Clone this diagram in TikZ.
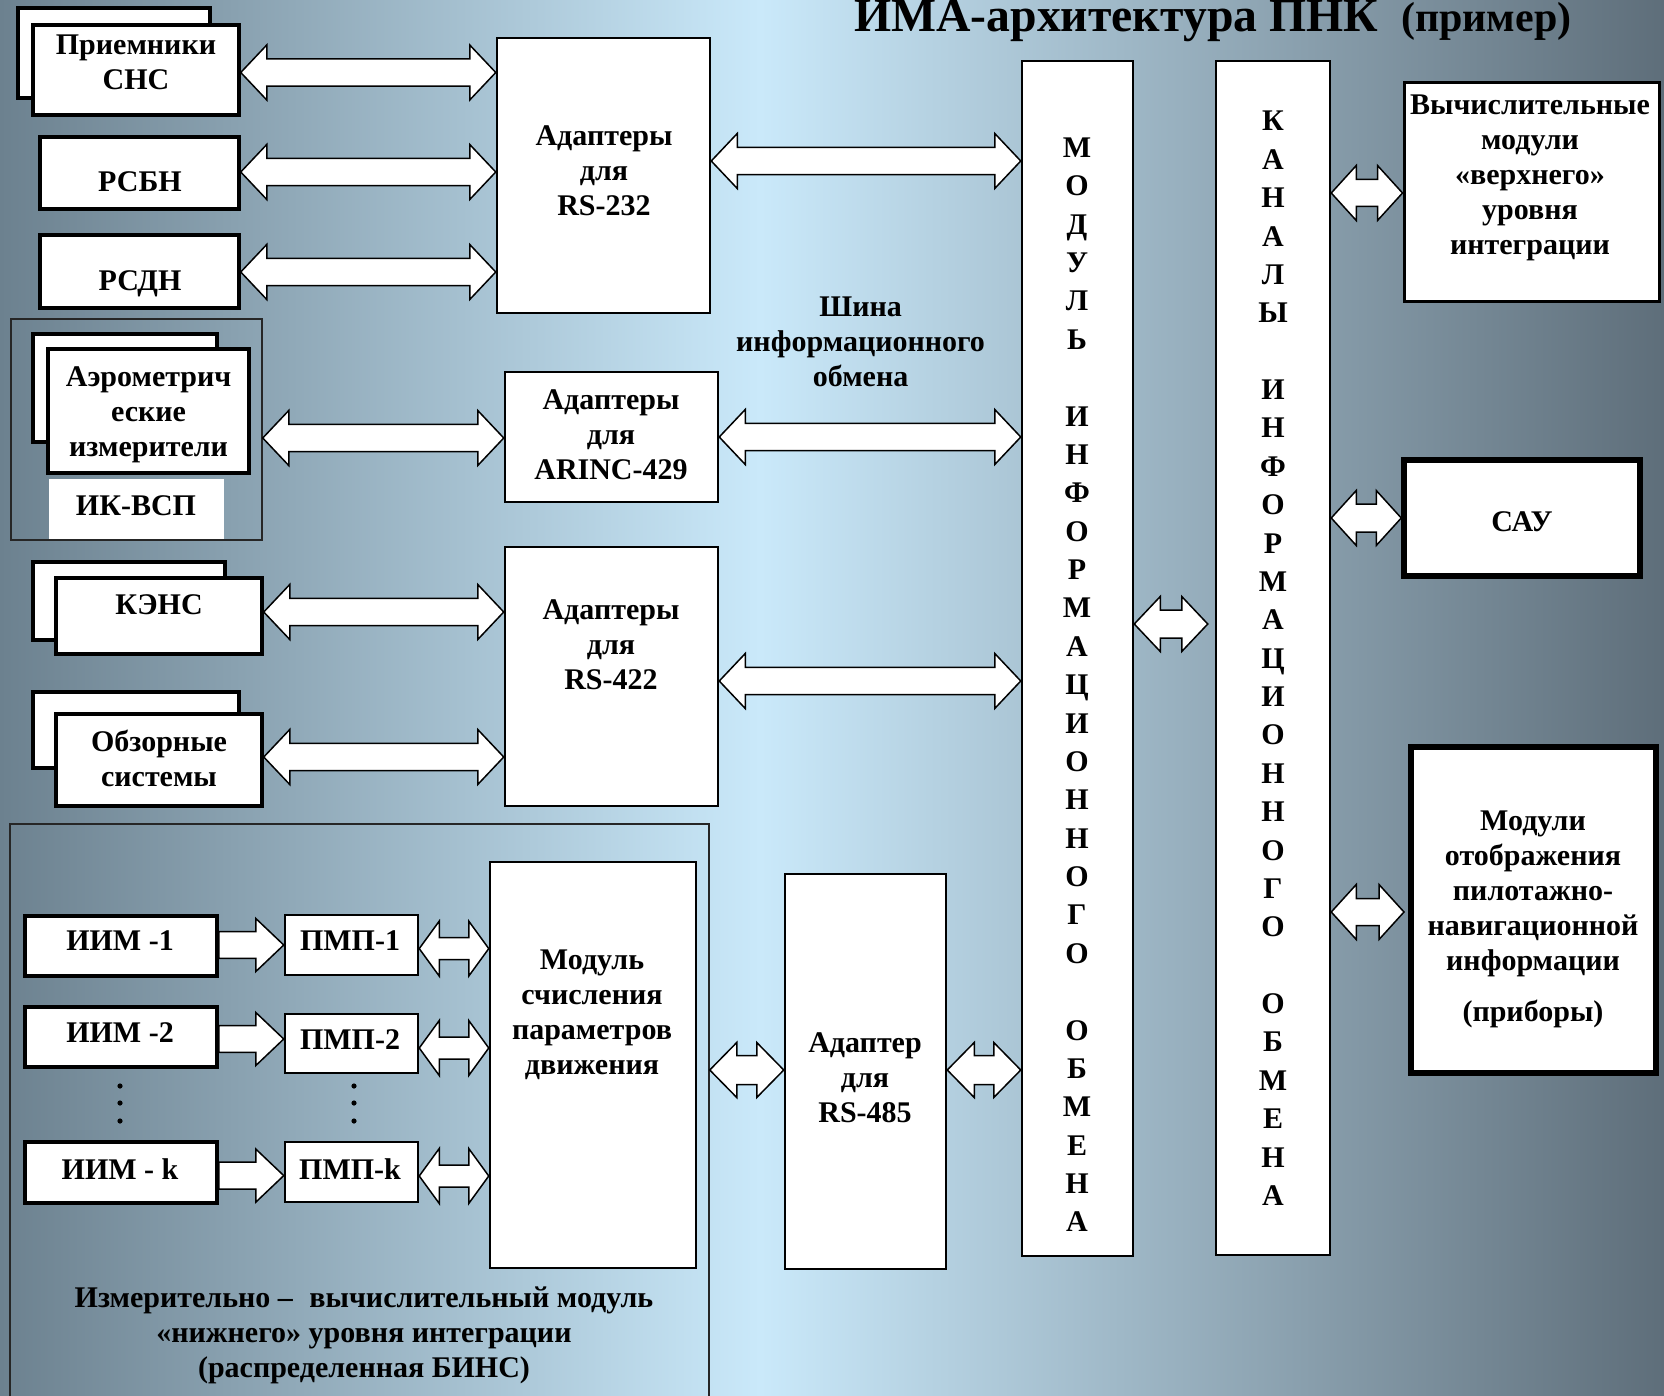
\documentclass[tikz,border=0pt]{standalone}
\usepackage{fontspec}
\setmainfont{Liberation Serif}
\usetikzlibrary{calc,fit}
\definecolor{bgL}{RGB}{108,129,143}
\definecolor{bgM}{RGB}{202,233,250}
\definecolor{bgR}{RGB}{94,110,122}
\tikzset{
  box/.style={draw=black, fill=white, line width=2.5pt, inner sep=0pt},
  srcbox/.style={box, line width=3.5pt},
  heavybox/.style={box, line width=6pt},
  grp/.style={draw=black!85, line width=1.5pt, inner sep=0pt},
  txt/.style={align=center, font=\bfseries\fontsize{30}{35}\selectfont, inner sep=0pt},
  barletter/.style={font=\bfseries\fontsize{30}{36}\selectfont, inner sep=0pt, anchor=base},
  blk/.style={draw=black, fill=white, line width=1.5pt, line join=miter},
}
% double block arrow: #1 left point, #2 right point, #3 y, #4 head length, #5 head half, #6 shaft half
\newcommand\dblarrow[6]{%
  \draw[blk] let \p1=(#1), \p2=(#2), \p3=(0,#3) in
    (\x1,\y3) -- (\x1+#4pt,\y3+#5pt) -- (\x1+#4pt,\y3+#6pt) -- (\x2-#4pt,\y3+#6pt)
    -- (\x2-#4pt,\y3+#5pt) -- (\x2,\y3) -- (\x2-#4pt,\y3-#5pt) -- (\x2-#4pt,\y3-#6pt)
    -- (\x1+#4pt,\y3-#6pt) -- (\x1+#4pt,\y3-#5pt) -- cycle;}
% single block arrow
\newcommand\sglarrow[6]{%
  \draw[blk] let \p1=(#1), \p2=(#2), \p3=(0,#3) in
    (\x1,\y3+#6pt) -- (\x2-#4pt,\y3+#6pt) -- (\x2-#4pt,\y3+#5pt) -- (\x2,\y3)
    -- (\x2-#4pt,\y3-#5pt) -- (\x2-#4pt,\y3-#6pt) -- (\x1,\y3-#6pt) -- cycle;}
\begin{document}
\begin{tikzpicture}[x=1pt,y=-1pt]
\useasboundingbox (0,0) rectangle (1664,1396);
\shade[left color=bgL, right color=bgM] (0,0) rectangle (760,1396);
\shade[left color=bgM, right color=bgR] (760,0) rectangle (1664,1396);

% title
\node[anchor=base west, inner sep=0pt, font=\bfseries\fontsize{47.7}{52}\selectfont] (title) at (854,32) {ИМА-архитектура ПНК};
\node[anchor=base west, inner sep=0pt, font=\bfseries\fontsize{42}{46}\selectfont] (title2) at (1401,32) {(пример)};

% group frames
\node[grp, fit={(11,319) (262,540)}] (grpIK) {};
\node[grp, fit={(10,824) (709,1402)}] (grpB) {};

% left sources
\node[srcbox, fit={(18,8) (210,98)}] (snsb) {};
\node[srcbox, fit={(33,25) (239,115)}] (sns) {};
\node[srcbox, fit={(40,137) (239,209)}] (rsbn) {};
\node[srcbox, fit={(40,235) (239,308)}] (rsdn) {};
\node[srcbox, fit={(33,334) (217,442)}] (aerob) {};
\node[srcbox, fit={(48,349) (249,473)}] (aero) {};
\node[fill=white, inner sep=0pt, fit={(49,479) (224,539)}] (ik) {};
\node[srcbox, fit={(33,562) (225,640)}] (kensb) {};
\node[srcbox, fit={(56,578) (262,654)}] (kens) {};
\node[srcbox, fit={(33,692) (239,768)}] (obzb) {};
\node[srcbox, fit={(56,714) (262,806)}] (obz) {};

% adapters
\node[box, fit={(497,38) (710,313)}] (a232) {};
\node[box, fit={(505,372) (718,502)}] (arinc) {};
\node[box, fit={(505,547) (718,806)}] (a422) {};

% bottom group
\node[srcbox, fit={(25,916) (217,976)}] (iim1) {};
\node[srcbox, fit={(25,1007) (217,1067)}] (iim2) {};
\node[srcbox, fit={(25,1142) (217,1203)}] (iimk) {};
\node[box, fit={(285,915) (418,975)}] (pmp1) {};
\node[box, fit={(285,1014) (418,1073)}] (pmp2) {};
\node[box, fit={(285,1142) (418,1202)}] (pmpk) {};
\node[box, fit={(490,862) (696,1268)}] (msp) {};
\node[box, fit={(785,874) (946,1269)}] (a485) {};

% buses
\node[box, fit={(1022,61) (1133,1256)}] (modul) {};
\node[box, fit={(1216,61) (1330,1255)}] (kanal) {};

% right side
\node[box, line width=3pt, fit={(1404,83) (1659,302)}] (vych) {};
\node[box, line width=5.5pt, fit={(1404,460) (1640,576)}] (sau) {};
\node[heavybox, fit={(1411,747) (1656,1073)}] (motb) {};

% texts
\node[txt] (snsT) at (136,62.5) {Приемники\\СНС};
\node[txt] (rsbnT) at (140,182) {РСБН};
\node[txt] (rsdnT) at (140,284) {РСДН};
\node[txt] (a232T) at (604,170.3) {Адаптеры\\для\\RS-232};
\node[txt] (aeroT) at (148.6,414.7) {Аэрометрич\\еские\\измерители};
\node[txt] (ikT) at (136,506) {ИК-ВСП};
\node[txt] (arincT) at (611,434.5) {Адаптеры\\для\\ARINC-429};
\node[txt] (kensT) at (159,605) {КЭНС};
\node[txt] (obzT) at (159,758.3) {Обзорные\\системы};
\node[txt] (a422T) at (611,645) {Адаптеры\\для\\RS-422};
\node[txt] (shinaT) at (860.6,341.7) {Шина\\информационного\\обмена};
\node[txt] (vychT) at (1530,178) {Вычислительные\\модули\\«верхнего»\\уровня\\интеграции};
\node[txt] (sauT) at (1522,522) {САУ};
\node[txt] (motbT) at (1533,919.5) {Модули\\отображения\\пилотажно-\\навигационной\\информации\\[16pt](приборы)};
\node[txt] (iim1T) at (120,941) {ИИМ -1};
\node[txt] (iim2T) at (120,1032.5) {ИИМ -2};
\node[txt] (iimkT) at (120,1169) {ИИМ - k};
\node[txt] (pmp1T) at (350,941) {ПМП-1};
\node[txt] (pmp2T) at (350,1040) {ПМП-2};
\node[txt] (pmpkT) at (350,1169) {ПМП-k};
\node[txt] (mspT) at (592,1014.5) {Модуль\\счисления\\параметров\\движения};
\node[txt] (a485T) at (865,1078) {Адаптер\\для\\RS-485};
\node[txt] (botT) at (364,1335) {Измерительно –\hspace{9pt} вычислительный модуль\\«нижнего» уровня интеграции\\(распределенная БИНС)};

% vertical letters
\foreach \c/\k in {М/0,О/1,Д/2,У/3,Л/4,Ь/5,И/7,Н/8,Ф/9,О/10,Р/11,М/12,А/13,Ц/14,И/15,О/16,Н/17,Н/18,О/19,Г/20,О/21,О/23,Б/24,М/25,Е/26,Н/27,А/28}
  \node[barletter] (ml\k) at (1077,157.5+38.37*\k) {\c};
\foreach \c/\k in {К/0,А/1,Н/2,А/3,Л/4,Ы/5,И/7,Н/8,Ф/9,О/10,Р/11,М/12,А/13,Ц/14,И/15,О/16,Н/17,Н/18,О/19,Г/20,О/21,О/23,Б/24,М/25,Е/26,Н/27,А/28}
  \node[barletter] (kl\k) at (1273,131+38.37*\k) {\c};

% dots
\foreach \yy [count=\j] in {1086,1103,1121}{
  \fill (120,\yy) circle (2.6) coordinate (dl\j);
  \fill (354,\yy) circle (2.6) coordinate (dr\j);
}

% arrows: sources to adapters
\dblarrow{sns.east}{a232.west}{72.5}{26}{27.5}{13.7}
\dblarrow{rsbn.east}{a232.west}{172}{26}{27.5}{13.7}
\dblarrow{rsdn.east}{a232.west}{272}{26}{27.5}{13.7}
\dblarrow{grpIK.east}{arinc.west}{438}{26}{27.5}{13.7}
\dblarrow{kens.east}{a422.west}{612}{26}{27.5}{13.7}
\dblarrow{obz.east}{a422.west}{757}{26}{27.5}{13.7}
% adapters to bus
\dblarrow{a232.east}{modul.west}{161}{26}{27.5}{13.7}
\dblarrow{arinc.east}{modul.west}{437}{26}{27.5}{13.7}
\dblarrow{a422.east}{modul.west}{681}{26}{27.5}{13.7}
% bus to channels
\dblarrow{modul.east}{[xshift=-7pt]kanal.west}{624}{26}{27.5}{14}
% channels to right modules
\dblarrow{kanal.east}{vych.west}{193}{25}{27.5}{13.5}
\dblarrow{kanal.east}{sau.west}{518}{25}{27.5}{14}
\dblarrow{kanal.east}{[xshift=-4pt]motb.west}{912}{25}{27.5}{13.5}
% bottom
\dblarrow{grpB.east}{a485.west}{1070}{27}{27.5}{14.5}
\dblarrow{a485.east}{modul.west}{1070}{27}{27.5}{14.5}
\dblarrow{pmp1.east}{msp.west}{948.6}{20}{27.5}{11}
\dblarrow{pmp2.east}{msp.west}{1048}{20}{27.5}{11}
\dblarrow{pmpk.east}{msp.west}{1176}{20}{27.5}{11}
\sglarrow{iim1.east}{pmp1.west}{945}{28}{26.6}{13.4}
\sglarrow{iim2.east}{pmp2.west}{1039}{28}{26.6}{13.4}
\sglarrow{iimk.east}{pmpk.west}{1175.6}{28}{26.6}{13.4}
\end{tikzpicture}
\end{document}
